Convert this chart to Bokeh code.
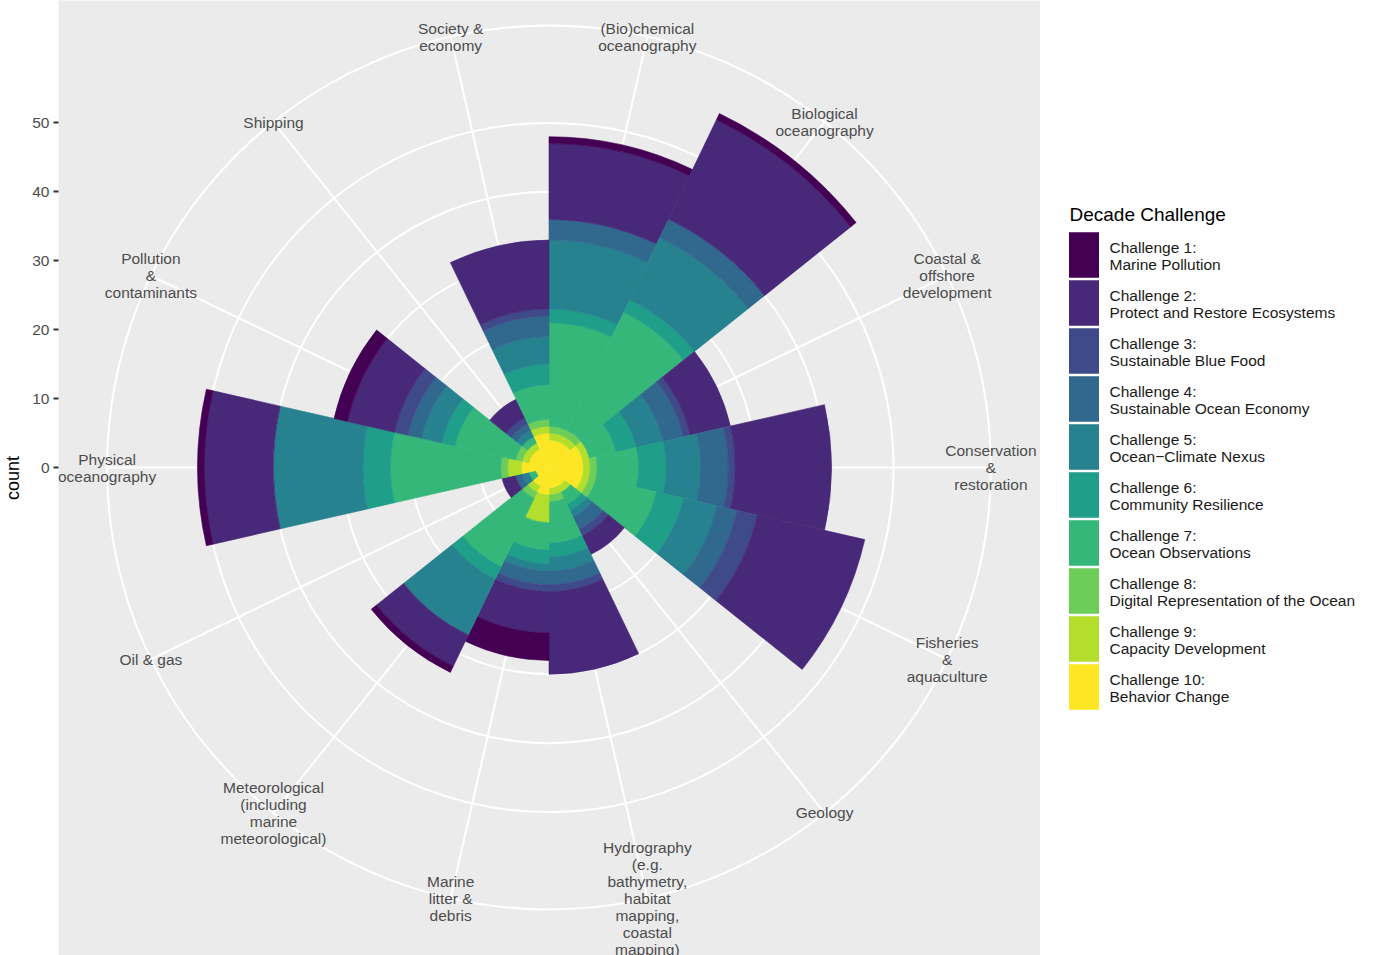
import numpy as np
from bokeh.plotting import figure
from bokeh.models import Range1d, FixedTicker, ColumnDataSource
from bokeh.core.properties import value
from bokeh.embed import file_html
from bokeh.resources import INLINE

# ---------------- data ----------------
category_labels = [
    "(Bio)chemical\noceanography",
    "Biological\noceanography",
    "Coastal &\noffshore\ndevelopment",
    "Conservation\n&\nrestoration",
    "Fisheries\n&\naquaculture",
    "Geology",
    "Hydrography\n(e.g.\nbathymetry,\nhabitat\nmapping,\ncoastal\nmapping)",
    "Marine\nlitter &\ndebris",
    "Meteorological\n(including\nmarine\nmeteorological)",
    "Oil & gas",
    "Physical\noceanography",
    "Pollution\n&\ncontaminants",
    "Shipping",
    "Society &\neconomy",
]

challenge_labels = [
    "Challenge 1:\nMarine Pollution",
    "Challenge 2:\nProtect and Restore Ecosystems",
    "Challenge 3:\nSustainable Blue Food",
    "Challenge 4:\nSustainable Ocean Economy",
    "Challenge 5:\nOcean\u2212Climate Nexus",
    "Challenge 6:\nCommunity Resilience",
    "Challenge 7:\nOcean Observations",
    "Challenge 8:\nDigital Representation of the Ocean",
    "Challenge 9:\nCapacity Development",
    "Challenge 10:\nBehavior Change",
]

viridis10 = ["#440154", "#482878", "#3E4A89", "#31688E", "#26828E",
             "#1F9E89", "#35B779", "#6DCD59", "#B4DE2C", "#FDE725"]

# counts per category (order of category_labels)
ch1 = [1, 1, 0, 0, 0, 0, 0, 4, 1, 0, 1, 2, 0, 0]
ch2 = [11, 16, 6, 14, 16, 3, 12, 6, 5, 2, 10, 7, 3, 10]
ch3 = [0, 0, 1, 1, 3, 1, 1, 1, 0, 0, 0, 2, 1, 1]
ch4 = [3, 3, 3, 4, 3, 2, 2, 2, 0, 1, 0, 2, 1, 3]
ch5 = [10, 10, 4, 5, 5, 1, 2, 1, 9, 1, 13, 3, 1, 4]
ch6 = [2, 2, 3, 4, 4, 1, 2, 2, 2, 0, 4, 2, 0, 3]
ch7 = [15, 19, 4, 6, 9, 2, 6, 4, 11, 1, 16, 9, 1, 5]
ch8 = [1, 1, 0, 1, 1, 0, 1, 0, 1, 0, 1, 1, 0, 1]
ch9 = [1, 1, 1, 1, 1, 1, 1, 4, 1, 0, 2, 1, 1, 1]
ch10 = [4, 4, 5, 5, 5, 3, 3, 4, 3, 2, 4, 3, 3, 5]

r_ticks = [0, 10, 20, 30, 40, 50]

# ---------------- geometry ----------------
counts = np.array([ch1, ch2, ch3, ch4, ch5, ch6, ch7, ch8, ch9, ch10], dtype=float)
n_cat = counts.shape[1]
totals = counts.sum(axis=0)
R = totals.max()                 # radius of the largest bar (0.4 of panel)
PANEL = 1.25 * R                 # half panel size (0.5 of panel)
LAB_R = 1.125 * R                # 0.45 circle / theta label radius

# page layout (pixels)
CX, CY = 548.5, 467.0            # centre of the polar panel on the page
HALF_PX = 491.0                  # half panel size in pixels
K = HALF_PX / PANEL              # pixels per count
FIG_LEFT, FIG_TOP = 0, 0
W, H = 1372, 955
FRAME_LEFT = 58

def X(px):
    return (px - CX) / K

def Y(py):
    return (CY - py) / K

p = figure(width=W, height=H, output_backend="svg", toolbar_location=None,
           x_range=Range1d(X(FRAME_LEFT), X(FIG_LEFT + W)),
           y_range=Range1d(Y(FIG_TOP + H), Y(FIG_TOP)),
           x_axis_location=None, y_axis_location="left",
           min_border=0, min_border_left=FRAME_LEFT - FIG_LEFT,
           outline_line_color=None, background_fill_color="white",
           border_fill_color="white")
p.grid.visible = False

FONT = value("Liberation Sans")

# axis
ax = p.yaxis[0]
ax.ticker = FixedTicker(ticks=r_ticks)
ax.axis_line_color = None
ax.minor_tick_line_color = None
ax.major_tick_line_color = "#333333"
ax.major_tick_line_width = 2
ax.major_tick_out = 5
ax.major_tick_in = 0
ax.major_label_standoff = 4
ax.major_label_text_font = "Liberation Sans"
ax.major_label_text_font_size = "15.5px"
ax.major_label_text_color = "#4D4D4D"
ax.axis_label = "count"
ax.axis_label_text_font = "Liberation Sans"
ax.axis_label_text_font_size = "18px"
ax.axis_label_text_font_style = "normal"
ax.axis_label_text_color = "black"
ax.axis_label_standoff = 6

# panel background
p.quad(left=[-PANEL], right=[PANEL], bottom=[-PANEL], top=[PANEL],
       fill_color="#EBEBEB", line_color=None)

# spokes at category centres
w = 2 * np.pi / n_cat
centers = np.pi / 2 - (np.arange(n_cat) + 0.5) * w
p.segment(x0=np.zeros(n_cat), y0=np.zeros(n_cat),
          x1=LAB_R * np.cos(centers), y1=LAB_R * np.sin(centers),
          line_color="white", line_width=2)

# circles at major radial breaks and at the 0.45 circle
rings = [t for t in r_ticks if 0 < t <= R] + [LAB_R]
p.circle(x=np.zeros(len(rings)), y=np.zeros(len(rings)), radius=rings,
         fill_color=None, line_color="white", line_width=2)

# stacked bars: challenge 10 innermost, challenge 1 outermost
inner, outer, start, end, fill = [], [], [], [], []
for i in range(n_cat):
    base = 0.0
    for j in range(counts.shape[0] - 1, -1, -1):
        c = counts[j, i]
        if c <= 0:
            continue
        inner.append(base)
        outer.append(base + c)
        start.append(np.pi / 2 - (i + 1) * w)
        end.append(np.pi / 2 - i * w)
        fill.append(viridis10[j])
        base += c
src = ColumnDataSource(dict(inner=inner, outer=outer, start=start, end=end, fill=fill))
p.annular_wedge(x=0, y=0, inner_radius="inner", outer_radius="outer",
                start_angle="start", end_angle="end", direction="anticlock",
                fill_color="fill", line_color="fill", line_width=0.6, source=src)

# theta labels
p.text(x=LAB_R * np.cos(centers), y=LAB_R * np.sin(centers), text=category_labels,
       text_align="center", text_baseline="middle", text_font=FONT,
       text_font_size="15.5px", text_color="#4D4D4D", text_line_height=1.0)

# legend
key_top0, key_step, key_h = 231.7, 48.0, 45.5
key_x0, key_w = 1068.5, 30.0
key_cy = [key_top0 + key_h / 2 + j * key_step for j in range(len(viridis10))]
p.rect(x=[X(key_x0 + key_w / 2)] * len(viridis10), y=[Y(v) for v in key_cy],
       width=key_w / K, height=key_h / K, fill_color=viridis10, line_color=None)
p.text(x=[X(1109)] * len(viridis10), y=[Y(v + 1) for v in key_cy], text=challenge_labels,
       text_align="left", text_baseline="middle", text_font=FONT,
       text_font_size="15.5px", text_color="#1A1A1A", text_line_height=1.05)
p.text(x=[X(1069)], y=[Y(214)], text=["Decade Challenge"], text_align="left",
       text_baseline="middle", text_font=FONT, text_font_size="19px", text_color="black")

open("out.html", "w").write(file_html(p, INLINE))
